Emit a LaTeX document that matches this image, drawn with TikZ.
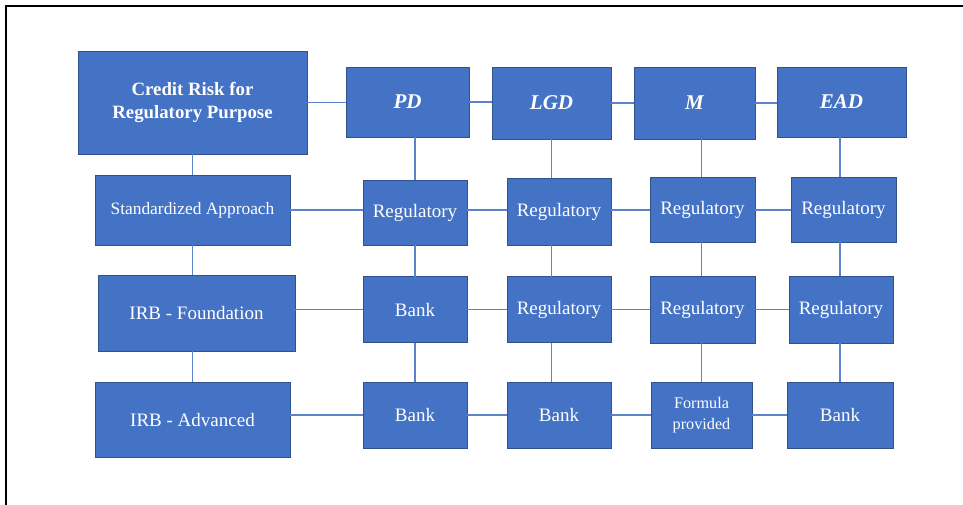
\documentclass[tikz,border=0pt]{standalone}
\usepackage{fontspec}
\setmainfont{Liberation Serif}
\definecolor{boxfill}{HTML}{4472C4}
\definecolor{boxedge}{HTML}{2F528F}
\definecolor{linkcol}{HTML}{5B84CC}
\begin{document}
\begin{tikzpicture}[x=1pt,y=-1pt,
  box/.style={draw=boxedge,line width=0.9pt,fill=boxfill,text=white,
    outer sep=0pt,inner sep=0pt,align=center,
    font=\fontsize{19}{22}\selectfont},
  hdr/.style={box,font=\fontsize{21}{24}\selectfont\bfseries\itshape},
  link/.style={draw=linkcol,line width=1.8pt},
  frame/.style={draw=black,line width=2.8pt}]
\useasboundingbox (0,0) rectangle (963,504);
% page frame (open on the right and bottom)
\draw[frame] (6,520) -- (6,6) -- (980,6);

% top row: root and the four risk parameters
\node[box,minimum width=229pt,minimum height=103pt,
  font=\fontsize{18.8}{23.5}\selectfont\bfseries] (cr) at (192.5,102.5)
  {Credit Risk for\\Regulatory Purpose};
\node[hdr,minimum width=123pt,minimum height=70pt] (pd)  at (407.5,102) {PD};
\node[hdr,minimum width=119pt,minimum height=72pt] (lgd) at (551.5,103) {LGD};
\node[hdr,minimum width=121pt,minimum height=72pt] (m)   at (694.5,103) {M};
\node[hdr,minimum width=129pt,minimum height=70pt] (ead) at (841.5,102) {EAD};

% approaches
\node[box,minimum width=195pt,minimum height=70pt,
  font=\fontsize{17.4}{20}\selectfont] (std) at (192.5,210) {Standardized Approach};
\node[box,minimum width=197pt,minimum height=76pt] (irbf) at (196.5,313) {IRB - Foundation};
\node[box,minimum width=195pt,minimum height=75pt] (irba) at (192.5,419.5) {IRB - Advanced};

% standardized approach row
\node[box,minimum width=104pt,minimum height=65pt] (r11) at (415,212.5) {Regulatory};
\node[box,minimum width=104pt,minimum height=67pt] (r12) at (559,211.5) {Regulatory};
\node[box,minimum width=105pt,minimum height=65pt] (r13) at (702.5,209.5) {Regulatory};
\node[box,minimum width=105pt,minimum height=65pt] (r14) at (843.5,209.5) {Regulatory};

% foundation IRB row
\node[box,minimum width=104pt,minimum height=66pt] (r21) at (415,309.5) {Bank};
\node[box,minimum width=104pt,minimum height=66pt] (r22) at (559,309.5) {Regulatory};
\node[box,minimum width=105pt,minimum height=67pt] (r23) at (702.5,309.5) {Regulatory};
\node[box,minimum width=104pt,minimum height=67pt] (r24) at (841,309.5) {Regulatory};

% advanced IRB row
\node[box,minimum width=104pt,minimum height=66pt] (r31) at (415,415) {Bank};
\node[box,minimum width=104pt,minimum height=66pt] (r32) at (559,415) {Bank};
\node[box,minimum width=101pt,minimum height=66pt,
  font=\fontsize{16.2}{21}\selectfont] (r33) at (701.5,415) {Formula\\provided};
\node[box,minimum width=106pt,minimum height=66pt] (r34) at (840,415) {Bank};

% root column links
\draw[link] (cr.south) -- (cr.south |- std.north);
\draw[link] (cr.south |- std.south) -- (cr.south |- irbf.north);
\draw[link] (cr.south |- irbf.south) -- (cr.south |- irba.north);

% top row links
\draw[link] (cr.east) -- (cr.east -| pd.west);
\draw[link] (pd.east) -- (pd.east -| lgd.west);
\draw[link] (lgd.east) -- (lgd.east -| m.west);
\draw[link] (m.east) -- (m.east -| ead.west);

% parameter columns; \k fixes the x of each column line
\foreach \h/\a/\b/\c/\k in {pd/r11/r21/r31/r11, lgd/r12/r22/r32/lgd,
                            m/r13/r23/r33/r33, ead/r14/r24/r34/r34}{
  \draw[link] (\k.center |- \h.south) -- (\k.center |- \a.north);
  \draw[link] (\k.center |- \a.south) -- (\k.center |- \b.north);
  \draw[link] (\k.center |- \b.south) -- (\k.center |- \c.north);
}

% approach rows
\draw[link] (std.east) -- (std.east -| r11.west);
\draw[link] (std.east -| r11.east) -- (std.east -| r12.west);
\draw[link] (std.east -| r12.east) -- (std.east -| r13.west);
\draw[link] (std.east -| r13.east) -- (std.east -| r14.west);

\draw[link] (r21.west -| irbf.east) -- (r21.west);
\draw[link] (r21.east) -- (r21.east -| r22.west);
\draw[link] (r21.east -| r22.east) -- (r21.east -| r23.west);
\draw[link] (r21.east -| r23.east) -- (r21.east -| r24.west);

\draw[link] (r31.west -| irba.east) -- (r31.west);
\draw[link] (r31.east) -- (r31.east -| r32.west);
\draw[link] (r31.east -| r32.east) -- (r31.east -| r33.west);
\draw[link] (r31.east -| r33.east) -- (r31.east -| r34.west);
\end{tikzpicture}
\end{document}
